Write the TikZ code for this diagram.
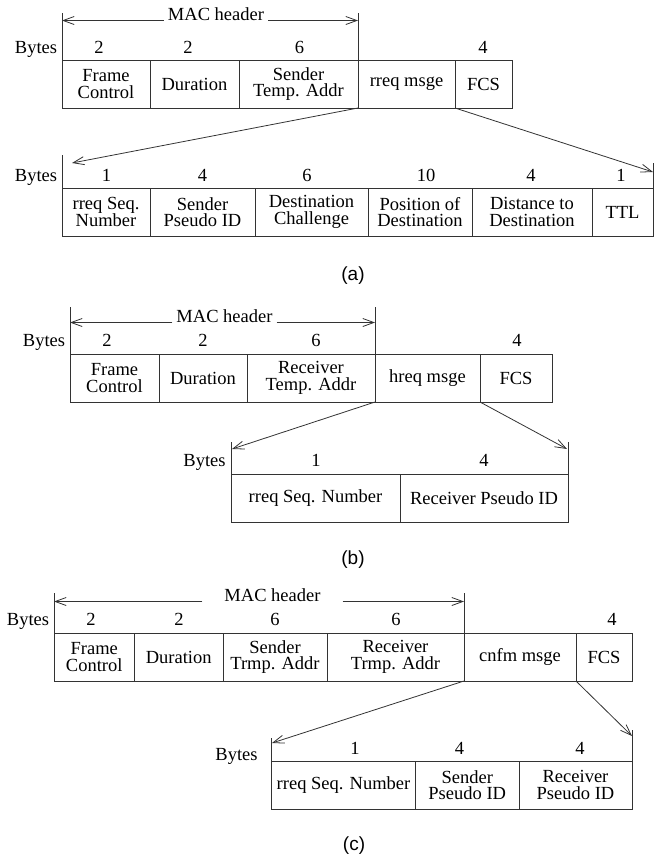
\documentclass[tikz,border=0pt]{standalone}
\usepackage{fontspec}
\setmainfont{Liberation Serif}
\newfontfamily\capfont{Liberation Sans}
\usetikzlibrary{arrows.meta}

\newcommand{\fieldfont}{\fontsize{18.5}{16.5}\selectfont}

\tikzset{
  cell/.style={draw=black!80, line width=0.8pt, inner sep=0pt, outer sep=0pt,
    align=center, anchor=north west, minimum height=48pt, font=\fieldfont},
  lbl/.style={anchor=base, inner sep=0pt, font=\fieldfont},
  hdr/.style={anchor=base, inner ysep=0pt, inner xsep=4pt, font=\fieldfont},
  sublabel/.style={font=\capfont\fontsize{19}{19}\selectfont},
  bar/.style={draw=black!80, line width=0.8pt},
  ptr/.style={bar, -{Straight Barb[length=11pt,width=8pt]}},
}

\begin{document}
\begin{tikzpicture}[x=1pt, y=-1pt]
  \useasboundingbox (0,0) rectangle (655,860);

  % (a) rreq frame
  \node[cell, minimum width=88pt] (a1) at (62,60) {Frame\\Control};
  \node[cell, minimum width=89pt] (a2) at (a1.north east) {Duration};
  \node[cell, minimum width=119pt] (a3) at (a2.north east) {Sender\\Temp. Addr};
  \node[cell, minimum width=97pt] (a4) at (a3.north east) {rreq msge};
  \node[cell, minimum width=57pt] (a5) at (a4.north east) {FCS};
  \node[lbl] (abytes) at (36,53.5) {Bytes};
  \node[lbl] (an1) at (99,53.5) {2};
  \node[lbl] (an2) at (188,53.5) {2};
  \node[lbl] (an3) at (299.5,53.5) {6};
  \node[lbl] (an4) at (483,53.5) {4};
  \coordinate (aL) at (62,13);
  \coordinate (aR) at (358,13);
  \draw[bar] (aL) -- (a1.north west);
  \draw[bar] (aR) -- (a3.north east);
  \node[hdr] (amac) at (216,20.5) {MAC header};
  \draw[ptr] (amac.base west) -- (amac.base west -| aL);
  \draw[ptr] (amac.base east) -- (amac.base east -| aR);

  \node[cell, minimum width=88pt] (a6) at (62,188) {rreq Seq.\\Number};
  \node[cell, minimum width=105pt] (a7) at (a6.north east) {Sender\\Pseudo ID};
  \node[cell, minimum width=113pt] (a8) at (a7.north east) {Destination\\Challenge};
  \node[cell, minimum width=104pt] (a9) at (a8.north east) {Position of\\Destination};
  \node[cell, minimum width=120pt] (a10) at (a9.north east) {Distance to\\Destination};
  \node[cell, minimum width=61pt] (a11) at (a10.north east) {TTL};
  \node[lbl] (aabytes) at (36,181) {Bytes};
  \node[lbl] (aan1) at (106.5,181) {1};
  \node[lbl] (aan2) at (202.5,181) {4};
  \node[lbl] (aan3) at (307,181) {6};
  \node[lbl] (aan4) at (426,181) {10};
  \node[lbl] (aan5) at (531,181) {4};
  \node[lbl] (aan6) at (621,181) {1};
  \coordinate (aaL) at (62,155);
  \coordinate (aaR) at (653,163);
  \draw[bar] (aaL) -- (a6.north west);
  \draw[bar] (aaR) -- (a11.north east);
  \coordinate (aaLtip) at (72,163);
  \coordinate (aaRtip) at (653,172);
  \draw[ptr] (a3.south east) -- (aaLtip);
  \draw[ptr] (a4.south east) -- (aaRtip);
  \node[sublabel] (capa) at (353,276) {(a)};

  % (b) hreq frame
  \node[cell, minimum width=89pt] (b1) at (70,354) {Frame\\Control};
  \node[cell, minimum width=88pt] (b2) at (b1.north east) {Duration};
  \node[cell, minimum width=128pt] (b3) at (b2.north east) {Receiver\\Temp. Addr};
  \node[cell, minimum width=105pt] (b4) at (b3.north east) {hreq msge};
  \node[cell, minimum width=72pt] (b5) at (b4.north east) {FCS};
  \node[lbl] (bbytes) at (44,346.5) {Bytes};
  \node[lbl] (bn1) at (107,346.5) {2};
  \node[lbl] (bn2) at (203,346.5) {2};
  \node[lbl] (bn3) at (316,346.5) {6};
  \node[lbl] (bn4) at (517,346.5) {4};
  \coordinate (bL) at (70,307);
  \coordinate (bR) at (375,307);
  \draw[bar] (bL) -- (b1.north west);
  \draw[bar] (bR) -- (b3.north east);
  \node[hdr] (bmac) at (224.5,322.5) {MAC header};
  \draw[ptr] (bmac.base west) -- (bmac.base west -| bL);
  \draw[ptr] (bmac.base east) -- (bmac.base east -| bR);

  \node[cell, minimum width=169pt] (b6) at (231,474) {rreq Seq. Number};
  \node[cell, minimum width=168pt] (b7) at (b6.north east) {Receiver Pseudo ID};
  \node[lbl] (bbbytes) at (204.5,466.5) {Bytes};
  \node[lbl] (bbn1) at (316,466.5) {1};
  \node[lbl] (bbn2) at (484,466.5) {4};
  \coordinate (bbL) at (231,442);
  \coordinate (bbR) at (568,442);
  \draw[bar] (bbL) -- (b6.north west);
  \draw[bar] (bbR) -- (b7.north east);
  \coordinate (bbLtip) at (232,449);
  \coordinate (bbRtip) at (567,449);
  \draw[ptr] (b3.south east) -- (bbLtip);
  \draw[ptr] (b4.south east) -- (bbRtip);
  \node[sublabel] (capb) at (353,560) {(b)};

  % (c) cnfm frame
  \node[cell, minimum width=80.5pt] (c1) at (54,633) {Frame\\Control};
  \node[cell, minimum width=88.5pt] (c2) at (c1.north east) {Duration};
  \node[cell, minimum width=104pt] (c3) at (c2.north east) {Sender\\Trmp. Addr};
  \node[cell, minimum width=137pt] (c4) at (c3.north east) {Receiver\\Trmp. Addr};
  \node[cell, minimum width=112pt] (c5) at (c4.north east) {cnfm msge};
  \node[cell, minimum width=56pt] (c6) at (c5.north east) {FCS};
  \node[lbl] (cbytes) at (28,625.5) {Bytes};
  \node[lbl] (cn1) at (91,625.5) {2};
  \node[lbl] (cn2) at (179,625.5) {2};
  \node[lbl] (cn3) at (275,625.5) {6};
  \node[lbl] (cn4) at (396,625.5) {6};
  \node[lbl] (cn5) at (612,625.5) {4};
  \coordinate (cL) at (54,593);
  \coordinate (cR) at (464,593);
  \draw[bar] (cL) -- (c1.north west);
  \draw[bar] (cR) -- (c4.north east);
  \node[hdr, inner xsep=22pt] (cmac) at (272.5,601.5) {MAC header};
  \draw[ptr] (cmac.base west) -- (cmac.base west -| cL);
  \draw[ptr] (cmac.base east) -- (cmac.base east -| cR);

  \node[cell, minimum width=144pt] (c7) at (271.5,761) {rreq Seq. Number};
  \node[cell, minimum width=103.5pt] (c8) at (c7.north east) {Sender\\Pseudo ID};
  \node[cell, minimum width=113pt] (c9) at (c8.north east) {Receiver\\Pseudo ID};
  \node[lbl] (ccbytes) at (236.5,760) {Bytes};
  \node[lbl] (ccn1) at (355,754) {1};
  \node[lbl] (ccn2) at (459.5,754) {4};
  \node[lbl] (ccn3) at (580,754) {4};
  \coordinate (ccL) at (271.5,738);
  \coordinate (ccR) at (632,730);
  \draw[bar] (ccL) -- (c7.north west);
  \draw[bar] (ccR) -- (c9.north east);
  \coordinate (ccLtip) at (272,743);
  \coordinate (ccRtip) at (632,736);
  \draw[ptr] (c4.south east) -- (ccLtip);
  \draw[ptr] (c5.south east) -- (ccRtip);
  \node[sublabel] (capc) at (354,846) {(c)};
\end{tikzpicture}
\end{document}
